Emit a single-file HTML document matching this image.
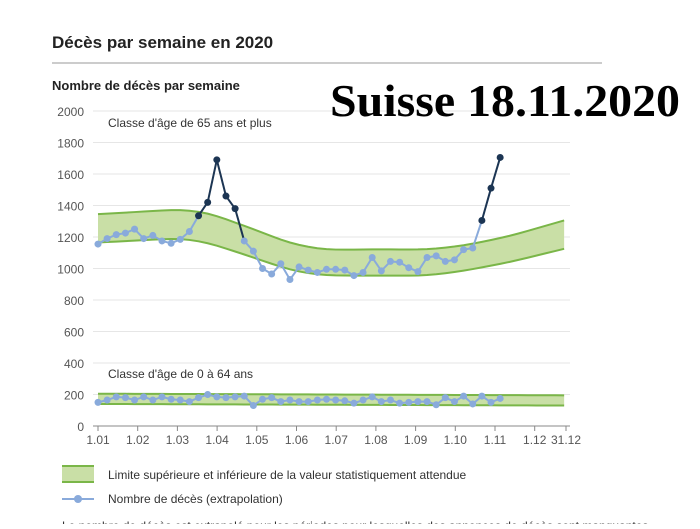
<!DOCTYPE html>
<html><head><meta charset="utf-8"><style>
body{margin:0;background:#fff;width:700px;height:524px;overflow:hidden;font-family:"Liberation Sans",sans-serif}
</style></head><body>
<svg id="s" width="700" height="524" xmlns="http://www.w3.org/2000/svg" font-family="Liberation Sans, sans-serif">
<text x="52" y="48" font-size="17" font-weight="bold" fill="#222">Décès par semaine en 2020</text>
<line x1="52" y1="63" x2="602" y2="63" stroke="#999" stroke-width="1"/>
<text x="52" y="90" font-size="13" font-weight="bold" fill="#222">Nombre de décès par semaine</text>
<g id="grid"></g>
<g id="plot"></g>
<text x="108" y="127" font-size="12" fill="#333">Classe d'âge de 65 ans et plus</text>
<text x="108" y="378" font-size="12" fill="#333">Classe d'âge de 0 à 64 ans</text>
<rect x="62" y="466" width="32" height="16" fill="#c9dfa6"/>
<line x1="62" y1="466" x2="94" y2="466" stroke="#7ab648" stroke-width="2"/>
<line x1="62" y1="482" x2="94" y2="482" stroke="#7ab648" stroke-width="2"/>
<text x="108" y="479" font-size="12" fill="#333">Limite supérieure et inférieure de la valeur statistiquement attendue</text>
<line x1="62" y1="499" x2="94" y2="499" stroke="#89aadb" stroke-width="2"/>
<circle cx="78" cy="499" r="4" fill="#89aadb"/>
<text x="108" y="503" font-size="12" fill="#333">Nombre de décès (extrapolation)</text>
<text x="62" y="530" font-size="12" fill="#333">Le nombre de décès est extrapolé pour les périodes pour lesquelles des annonces de décès sont manquantes</text>
<text x="330" y="116" font-size="45" font-weight="bold" font-family="Liberation Serif, serif" fill="#000" textLength="350" lengthAdjust="spacingAndGlyphs">Suisse 18.11.2020</text>
</svg>
<script>
var NS="http://www.w3.org/2000/svg";
function el(t,a,p){var e=document.createElementNS(NS,t);for(var k in a)e.setAttribute(k,a[k]);(p||document.getElementById('plot')).appendChild(e);return e;}
function Y(v){return 426-v*315/2000;}
function X(i){return 98+i*9.14;}
var g=document.getElementById('grid');
for(var v=0;v<=2000;v+=200){
 el('line',{x1:93,x2:570,y1:Y(v),y2:Y(v),stroke:v==0?'#888':'#e6e6e6','stroke-width':1},g);
 el('text',{x:84,y:Y(v)+5,'font-size':12,fill:'#555','text-anchor':'end'},g).textContent=v;
}
var lab=['1.01','1.02','1.03','1.04','1.05','1.06','1.07','1.08','1.09','1.10','1.11','1.12','31.12'];
for(var i=0;i<13;i++){var x=i<12?98+i*39.7:566;
 el('line',{x1:x,x2:x,y1:426,y2:431,stroke:'#888'},g);
 el('text',{x:x,y:444,'font-size':12,fill:'#555','text-anchor':'middle'},g).textContent=lab[i];}
function interp(kp,n){var r=[];for(var i=0;i<n;i++){for(var j=0;j<kp.length-1;j++){if(i>=kp[j][0]&&i<=kp[j+1][0]){var t=(i-kp[j][0])/(kp[j+1][0]-kp[j][0]);r.push(kp[j][1]+t*(kp[j+1][1]-kp[j][1]));break;}}}
 for(var p=0;p<3;p++){var s=r.slice();for(i=1;i<n-1;i++)s[i]=(r[i-1]+2*r[i]+r[i+1])/4;r=s;}return r;}
var N=52;
var up=interp([[0,1345],[9,1375],[12,1355],[17,1250],[21,1160],[24,1125],[26,1118],[30,1122],[36,1120],[40,1145],[45,1205],[51,1305]],N);
var lo=interp([[0,1165],[9,1192],[12,1165],[17,1070],[21,990],[24,960],[26,955],[36,955],[40,985],[45,1040],[51,1125]],N);
function band(u,l){var d='M';for(var i=0;i<N;i++)d+=X(i)+','+Y(u[i])+' ';for(i=N-1;i>=0;i--)d+='L'+X(i)+','+Y(l[i])+' ';
 el('path',{d:d+'Z',fill:'#c9dfa6'});
 [u,l].forEach(function(a){el('polyline',{points:a.map(function(v,i){return X(i)+','+Y(v)}).join(' '),fill:'none',stroke:'#7ab648','stroke-width':2});});}
band(up,lo);
var u2=[],l2=[];for(var i=0;i<N;i++){u2.push(205-i*0.2);l2.push(140-i*0.2);}
band(u2,l2);
var d=[1155,1190,1215,1225,1250,1190,1210,1175,1160,1185,1235,1335,1420,1690,1460,1380,1175,1110,1000,965,1030,930,1010,990,975,995,995,990,955,975,1070,985,1045,1040,1005,980,1070,1080,1045,1055,1120,1130,1305,1510,1705];
var dark=function(i){return (i>=11&&i<=15)||i>=42;};
var L='#89aadb',D='#1c3553';
for(var i=0;i<d.length-1;i++){var c=(dark(i)&&dark(i+1))||(i==15)?D:L;
 el('line',{x1:X(i),y1:Y(d[i]),x2:X(i+1),y2:Y(d[i+1]),stroke:c,'stroke-width':2});}
for(i=0;i<d.length;i++)el('circle',{cx:X(i),cy:Y(d[i]),r:3.5,fill:dark(i)?D:L});
var y2=[150,165,185,180,165,185,165,185,170,165,155,180,200,185,180,185,190,130,170,180,155,165,155,155,165,170,165,160,145,165,185,155,165,145,150,155,155,135,180,155,190,140,190,150,175];
el('polyline',{points:y2.map(function(v,i){return X(i)+','+Y(v)}).join(' '),fill:'none',stroke:L,'stroke-width':2});
for(i=0;i<y2.length;i++)el('circle',{cx:X(i),cy:Y(y2[i]),r:3.5,fill:L});
</script>
</body></html>
